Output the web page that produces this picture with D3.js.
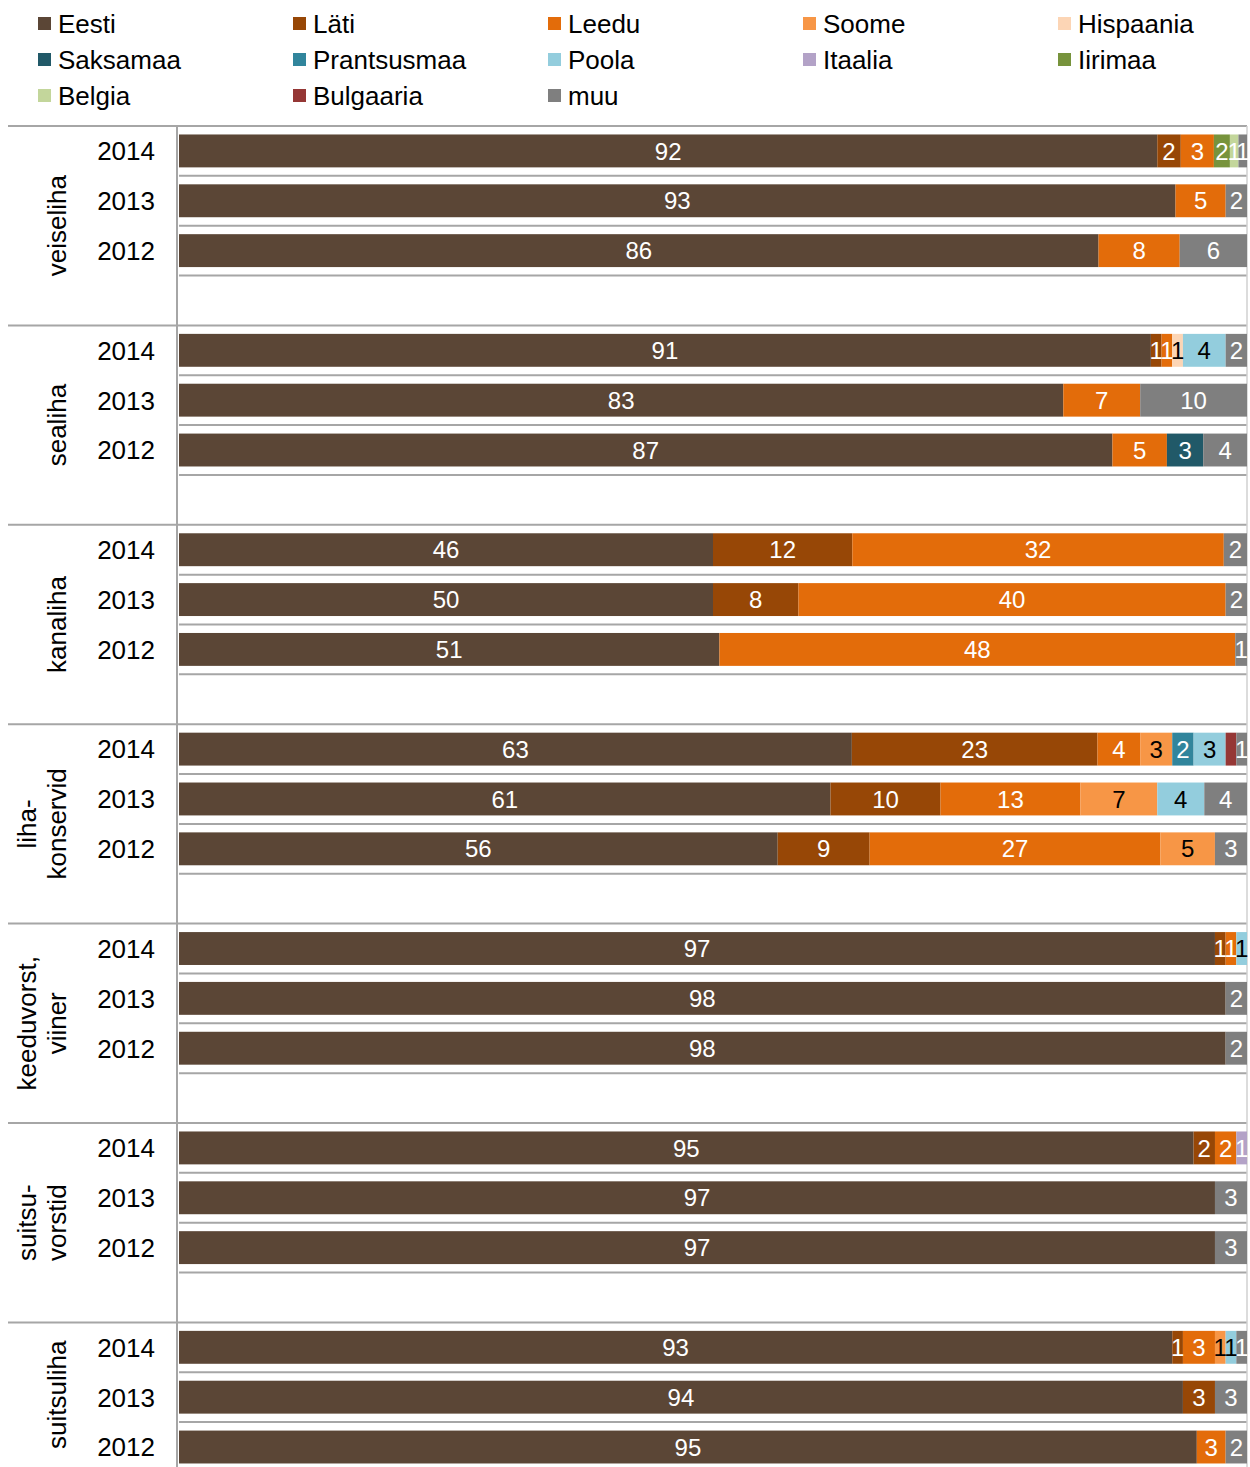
<!DOCTYPE html>
<html>
<head>
<meta charset="utf-8">
<script src="https://cdn.jsdelivr.net/npm/d3@7"></script>
<style>
  body { margin: 0; background: #fff; }
  svg { display: block; font-family: "Liberation Sans", Arial, sans-serif; }
</style>
</head>
<body>
<svg id="chart" width="1250" height="1467"></svg>
<script>
const countries = ['Eesti', 'Läti', 'Leedu', 'Soome', 'Hispaania', 'Saksamaa', 'Prantsusmaa',
  'Poola', 'Itaalia', 'Iirimaa', 'Belgia', 'Bulgaaria', 'muu']
const colors = ['#5b4636', '#974706', '#e36c0a', '#f79646', '#fcd5b5', '#215968', '#31859c',
  '#93cddd', '#b3a2c7', '#77933c', '#c3d69b', '#953735', '#7f7f7f']
const darkText = ['Soome', 'Hispaania', 'Poola']
const unlabeled = ['Bulgaaria']

const years = ['2014', '2013', '2012']
const products = ['veiseliha', 'sealiha', 'kanaliha', 'liha-\nkonservid', 'keeduvorst,\nviiner',
  'suitsu-\nvorstid', 'suitsuliha']

// shares in %, one entry per year in the order of `years` (labels are rounded)
const veiseliha = [
  {Eesti: 91.6, 'Läti': 2.2, Leedu: 3.1, Iirimaa: 1.5, Belgia: 0.8, muu: 0.8},
  {Eesti: 93.4, Leedu: 4.7, muu: 2.0},
  {Eesti: 86.1, Leedu: 7.6, muu: 6.3}
]
const sealiha = [
  {Eesti: 91, 'Läti': 1, Leedu: 1, Hispaania: 1, Poola: 4, muu: 2},
  {Eesti: 82.8, Leedu: 7.2, muu: 10.0},
  {Eesti: 87.4, Leedu: 5.1, Saksamaa: 3.4, muu: 4.1}
]
const kanaliha = [
  {Eesti: 46, 'Läti': 12, Leedu: 32, muu: 2},
  {Eesti: 50, 'Läti': 8, Leedu: 40, muu: 2},
  {Eesti: 50.6, Leedu: 48.3, muu: 1.1}
]
const lihakonservid = [
  {Eesti: 63, 'Läti': 23, Leedu: 4, Soome: 3, Prantsusmaa: 2, Poola: 3, Bulgaaria: 1, muu: 1},
  {Eesti: 61.0, 'Läti': 10.3, Leedu: 13.1, Soome: 7.2, Poola: 4.4, muu: 4.0},
  {Eesti: 56.0, 'Läti': 8.6, Leedu: 27.2, Soome: 5.1, muu: 3.0}
]
const keeduvorst = [
  {Eesti: 97, 'Läti': 1, Leedu: 1, Poola: 1},
  {Eesti: 98, muu: 2},
  {Eesti: 98, muu: 2}
]
const suitsuvorstid = [
  {Eesti: 95, 'Läti': 2, Leedu: 2, Itaalia: 1},
  {Eesti: 97, muu: 3},
  {Eesti: 97, muu: 3}
]
const suitsuliha = [
  {Eesti: 93, 'Läti': 1, Leedu: 3, Soome: 1, Poola: 1, muu: 1},
  {Eesti: 94, 'Läti': 3, muu: 3},
  {Eesti: 95.3, Leedu: 2.7, muu: 2.0}
]
const productData = [veiseliha, sealiha, kanaliha, lihakonservid, keeduvorst, suitsuvorstid, suitsuliha]

const W = 1250, H = 1467
const plotLeft = 179, plotRight = 1247, plotTop = 126
const slotsPerGroup = 4
const slotH = 49.85

// build rows: 3 years + one empty slot per product
const slots = []
const rows = []
products.forEach((p, gi) => {
  for (let s = 0; s < slotsPerGroup; s++) {
    const id = `${gi}-${s}`
    slots.push(id)
    if (s < years.length) {
      const row = {id, group: gi, year: years[s]}
      countries.forEach(c => { row[c] = productData[gi][s][c] || 0 })
      rows.push(row)
    }
  }
})

const svg = d3.select('#chart')
const y = d3.scaleBand().domain(slots)
  .range([plotTop, plotTop + slots.length * slotH])
  .paddingInner(0.34).paddingOuter(0.17)
const x = d3.scaleLinear().domain([0, 1]).range([plotLeft, plotRight])
const color = d3.scaleOrdinal().domain(countries).range(colors)

const series = d3.stack().keys(countries).offset(d3.stackOffsetExpand)(rows)

// gridlines at every slot boundary
const gridG = svg.append('g')
d3.range(slots.length + 1).forEach(k => {
  const yy = plotTop + k * slotH
  const isGroup = k % slotsPerGroup === 0
  gridG.append('line')
    .attr('x1', isGroup ? 8 : plotLeft).attr('x2', plotRight)
    .attr('y1', yy).attr('y2', yy)
    .attr('stroke', '#a6a6a6').attr('stroke-width', 2)
})
gridG.append('line')
  .attr('x1', plotLeft - 2).attr('x2', plotLeft - 2)
  .attr('y1', plotTop).attr('y2', H)
  .attr('stroke', '#a6a6a6').attr('stroke-width', 2)
gridG.append('line')
  .attr('x1', plotRight).attr('x2', plotRight)
  .attr('y1', plotTop).attr('y2', H)
  .attr('stroke', '#d0d0d0').attr('stroke-width', 1.5)

// bars
const layer = svg.append('g').selectAll('g').data(series).join('g')
  .attr('fill', d => color(d.key))
layer.selectAll('rect').data(d => d.filter(s => s[1] > s[0]))
  .join('rect')
  .attr('x', d => x(d[0]))
  .attr('y', d => y(d.data.id))
  .attr('width', d => x(d[1]) - x(d[0]))
  .attr('height', y.bandwidth())

// value labels
const labelG = svg.append('g').attr('font-size', 24).attr('text-anchor', 'middle')
series.filter(s => !unlabeled.includes(s.key)).forEach(s => {
  s.filter(d => d[1] > d[0]).forEach(d => {
    labelG.append('text')
      .attr('x', (x(d[0]) + x(d[1])) / 2)
      .attr('y', y(d.data.id) + y.bandwidth() / 2)
      .attr('dy', '0.36em')
      .attr('fill', darkText.includes(s.key) ? '#000' : '#fff')
      .text(Math.round(d.data[s.key]))
  })
})

// year labels
svg.append('g').attr('font-size', 26).attr('text-anchor', 'end')
  .selectAll('text').data(rows).join('text')
  .attr('x', 155)
  .attr('y', d => y(d.id) + y.bandwidth() / 2)
  .attr('dy', '0.36em')
  .text(d => d.year)

// product labels, centred on the visible part of each group
const prodG = svg.append('g').attr('font-size', 26).attr('text-anchor', 'middle')
products.forEach((p, gi) => {
  const top = plotTop + gi * slotsPerGroup * slotH
  const bottom = Math.min(top + slotsPerGroup * slotH, H)
  const cy = (top + bottom) / 2
  const lines = p.split('\n')
  const t = prodG.append('text')
    .attr('transform', `translate(${lines.length > 1 ? 27 : 57},${cy}) rotate(-90)`)
  lines.forEach((ln, i) => {
    t.append('tspan').attr('x', 0).attr('dy', i === 0 ? '0.36em' : 30).text(ln)
  })
})

// legend
const legend = svg.append('g').attr('font-size', 26)
countries.forEach((c, i) => {
  const col = i % 5, row = Math.floor(i / 5)
  const g = legend.append('g').attr('transform', `translate(${38 + col * 255},${24 + row * 36})`)
  g.append('rect').attr('x', 0).attr('y', -7).attr('width', 13).attr('height', 13).attr('fill', color(c))
  g.append('text').attr('x', 20).attr('dy', '0.36em').text(c)
})
</script>
</body>
</html>
